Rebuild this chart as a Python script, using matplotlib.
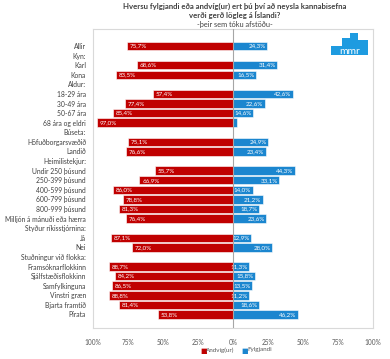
import numpy as np
import matplotlib
matplotlib.use("Agg")
import matplotlib.pyplot as plt
from matplotlib.patches import Rectangle

plt.rcParams['font.family'] = ['Lato', 'DejaVu Sans']

categories = [
    "Allir", "Kyn:", "Karl", "Kona", "Aldur:", "18-29 ára", "30-49 ára",
    "50-67 ára", "68 ára og eldri", "Búseta:", "Höfuðborgarsvæðið", "Landið",
    "Heimilistekjur:", "Undir 250 þúsund", "250-399 þúsund", "400-599 þúsund",
    "600-799 þúsund", "800-999 þúsund", "Milljón á mánuði eða hærra",
    "Styður ríkisstjórnina:", "Já", "Nei", "Stuðningur við flokka:",
    "Framsóknarflokkinn", "Sjálfstæðisflokkinn", "Samfylkinguna",
    "Vinstri græn", "Bjarta framtíð", "Pírata",
]
andvig = [75.7, np.nan, 68.6, 83.5, np.nan, 57.4, 77.4, 85.4, 97.0, np.nan,
          75.1, 76.6, np.nan, 55.7, 66.9, 86.0, 78.8, 81.3, 76.4, np.nan,
          87.1, 72.0, np.nan, 88.7, 84.2, 86.5, 88.8, 81.4, 53.8]
fylgjandi = [24.3, np.nan, 31.4, 16.5, np.nan, 42.6, 22.6, 14.6, 3.0, np.nan,
             24.9, 23.4, np.nan, 44.3, 33.1, 14.0, 21.2, 18.7, 23.6, np.nan,
             12.9, 28.0, np.nan, 11.3, 15.8, 13.5, 11.2, 18.6, 46.2]
xticks = [-100, -75, -50, -25, 0, 25, 50, 75, 100]
xticklabels = ["100%", "75%", "50%", "25%", "0%", "25%", "50%", "75%", "100%"]

RED = "#C00000"
BLUE = "#1B86CF"

fig = plt.figure(figsize=(3.90, 3.59), dpi=100)
ax = fig.add_axes([93/390, 1-328/359, 280/390, 299/359])

y = np.arange(len(categories))
a = np.array(andvig)
f = np.array(fylgjandi)
ax.barh(y, -a, height=0.88, color=RED, edgecolor="white", linewidth=0.4)
ax.barh(y, f, height=0.88, color=BLUE, edgecolor="white", linewidth=0.4)

def fmt(v):
    return ("%.1f%%" % v).replace(".", ",")

for yi, av, fv in zip(y, a, f):
    if not np.isnan(av):
        ax.text(-av + 2, yi, fmt(av), color="white", fontsize=4.5,
                ha="left", va="center")
    if not np.isnan(fv) and fv >= 5:
        ax.text(fv - 1, yi, fmt(fv), color="white", fontsize=4.5,
                ha="right", va="center")

ax.axvline(0, color="#A6A6A6", linewidth=0.8, zorder=3)
ax.set_xlim(-100, 100)
ax.set_ylim(len(categories) - 1 + 1.41, -1.77)
ax.set_yticks(y)
ax.set_yticklabels(categories, fontsize=4.9, color="#404040")
ax.set_xticks(xticks)
ax.set_xticklabels(xticklabels, fontsize=4.7, color="#595959")
ax.tick_params(axis="y", length=0, pad=5)
ax.tick_params(axis="x", length=0, pad=8)
for s in ax.spines.values():
    s.set_color("#D9D9D9")
    s.set_linewidth(0.8)

# mmr logo (approximation)
lax = fig.add_axes([331/390, 1-55/359, 37/390, 22/359])
lax.set_xlim(0, 37)
lax.set_ylim(0, 22)
lax.axis("off")
for x0, w, h in [(0, 11, 9), (11, 8, 17), (19, 8, 22), (27, 10, 15)]:
    lax.add_patch(Rectangle((x0, 0), w, h, color="#1E9BE0", lw=0))
lax.text(18.5, 4, "mmr", color="white", fontsize=7.5, ha="center", va="center")

fig.text(0.603, 1-6/359, "Hversu fylgjandi eða andvíg(ur) ert þú því að neysla kannabisefna",
         ha="center", va="center", fontsize=5.6, fontweight="bold", color="#404040")
fig.text(0.603, 1-15/359, "verði gerð lögleg á Íslandi?",
         ha="center", va="center", fontsize=5.6, fontweight="bold", color="#404040")
fig.text(0.603, 1-24/359, "-þeir sem tóku afstöðu-",
         ha="center", va="center", fontsize=5.3, color="#404040")

# legend
fig.text(200/390, 1-350/359, "■", color=RED, fontsize=5, ha="left", va="center")
fig.text(205.5/390, 1-350/359, "Andvíg(ur)", color="#595959", fontsize=4.5, ha="left", va="center")
fig.text(241.5/390, 1-350/359, "■", color=BLUE, fontsize=5, ha="left", va="center")
fig.text(247/390, 1-350/359, "Fylgjandi", color="#595959", fontsize=4.5, ha="left", va="center")

fig.savefig("out.png", dpi=100, facecolor="white")
